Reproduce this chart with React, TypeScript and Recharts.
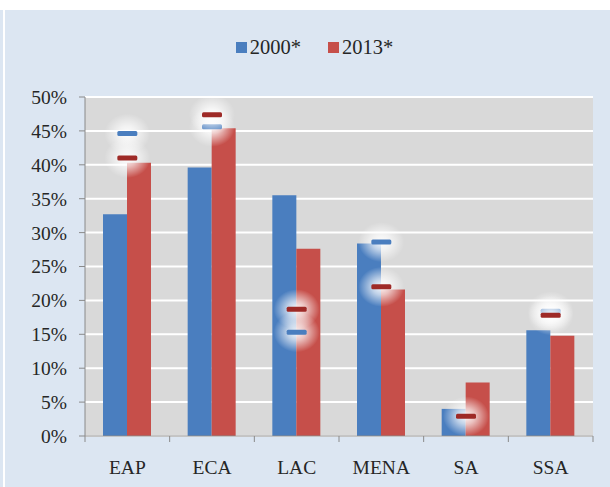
import React from 'react';
import { ComposedChart, Bar, Scatter, XAxis, YAxis, CartesianGrid } from 'recharts';

const regions = ['EAP', 'ECA', 'LAC', 'MENA', 'SA', 'SSA'];
const bars2000 = [32.7, 39.6, 35.5, 28.4, 4.0, 15.6];
const bars2013 = [40.3, 45.4, 27.6, 21.6, 7.9, 14.8];
const marks2000 = [44.6, 45.6, 15.3, 28.6, null, 18.4];
const marks2013 = [41.0, 47.4, 18.7, 22.0, 2.9, 17.8];
const yTicks = [0, 5, 10, 15, 20, 25, 30, 35, 40, 45, 50];

const data = regions.map((r, i) => ({
  region: r,
  v2000: bars2000[i],
  v2013: bars2013[i],
  m2000: marks2000[i],
  m2013: marks2013[i],
}));

const BLUE = '#4a7ebf';
const RED = '#c64f4a';
const AXIS = '#8a8a8a';
const FONT = '"Liberation Serif", serif';
const BAND = (588 - 80) / regions.length;

const makeMarker = (color: string, key: string) => (props: any) => {
  const { cx, cy, payload } = props;
  if (!Number.isFinite(cx) || !Number.isFinite(cy)) return <g />;
  if (payload && payload[key] == null) return <g />;
  return (
    <g>
      <ellipse cx={cx} cy={cy} rx={23} ry={20} fill="url(#glow)" />
      <rect x={cx - 10} y={cy - 2.5} width={20} height={5} rx={1.5} fill={color} />
    </g>
  );
};

const XTick = (props: any) => {
  const { x, y, payload, index } = props;
  return (
    <g>
      <line x1={x - BAND / 2} x2={x - BAND / 2} y1={y} y2={y + 6} stroke={AXIS} />
      {index === regions.length - 1 && (
        <line x1={x + BAND / 2} x2={x + BAND / 2} y1={y} y2={y + 6} stroke={AXIS} />
      )}
      <text x={x} y={y + 31} textAnchor="middle" dominantBaseline="central" fontFamily={FONT} fontSize={19.5} fill="#262626">
        {payload.value}
      </text>
    </g>
  );
};

export default function App() {
  return (
    <div style={{ position: 'absolute', left: 0, top: 0, width: 610, height: 487, background: '#fff' }}>
      <svg width={0} height={0} style={{ position: 'absolute' }}>
        <defs>
          <radialGradient id="glow">
            <stop offset="0%" stopColor="#ffffff" stopOpacity={0.95} />
            <stop offset="40%" stopColor="#ffffff" stopOpacity={0.65} />
            <stop offset="100%" stopColor="#ffffff" stopOpacity={0} />
          </radialGradient>
        </defs>
      </svg>
      <div style={{ position: 'absolute', left: 0, top: 10, width: 3, height: 477, background: '#dce6f2' }} />
      <div style={{ position: 'absolute', left: 5, top: 10, width: 605, height: 477, background: '#dce6f2' }}>
        <div
          style={{
            position: 'absolute', top: 25, left: 0, width: 605, display: 'flex', justifyContent: 'center',
            fontFamily: FONT, fontSize: 20.5, color: '#262626', lineHeight: '24px',
          }}
        >
          <span style={{ display: 'flex', alignItems: 'center', marginLeft: 14 }}>
            <span style={{ width: 11, height: 11, background: BLUE, marginRight: 3 }} />2000*
          </span>
          <span style={{ display: 'flex', alignItems: 'center', marginLeft: 27 }}>
            <span style={{ width: 11, height: 11, background: RED, marginRight: 3 }} />2013*
          </span>
        </div>
        <ComposedChart
          width={605}
          height={477}
          data={data}
          margin={{ top: 87, right: 17, bottom: 0, left: 0 }}
          barGap={0}
        >
          <CartesianGrid vertical={false} stroke="#ffffff" strokeWidth={2} fill="#d9d9d9" />
          <XAxis
            dataKey="region"
            height={51}
            axisLine={{ stroke: AXIS }}
            tickLine={false}
            tickSize={0}
            tickMargin={0}
            tick={<XTick />}
            interval={0}
          />
          <YAxis
            width={80}
            domain={[0, 50]}
            ticks={yTicks}
            tickFormatter={(v: number) => `${v}%`}
            axisLine={{ stroke: AXIS }}
            tickLine={{ stroke: AXIS }}
            tickSize={6}
            tickMargin={12}
            tick={{ fontFamily: FONT, fontSize: 19.5, fill: '#262626' }}
          />
          <Bar dataKey="v2000" fill={BLUE} barSize={24} isAnimationActive={false} />
          <Bar dataKey="v2013" fill={RED} barSize={24} isAnimationActive={false} />
          <Scatter dataKey="m2000" shape={makeMarker(BLUE, 'm2000')} isAnimationActive={false} />
          <Scatter dataKey="m2013" shape={makeMarker('#9e2a27', 'm2013')} isAnimationActive={false} />
        </ComposedChart>
      </div>
    </div>
  );
}
